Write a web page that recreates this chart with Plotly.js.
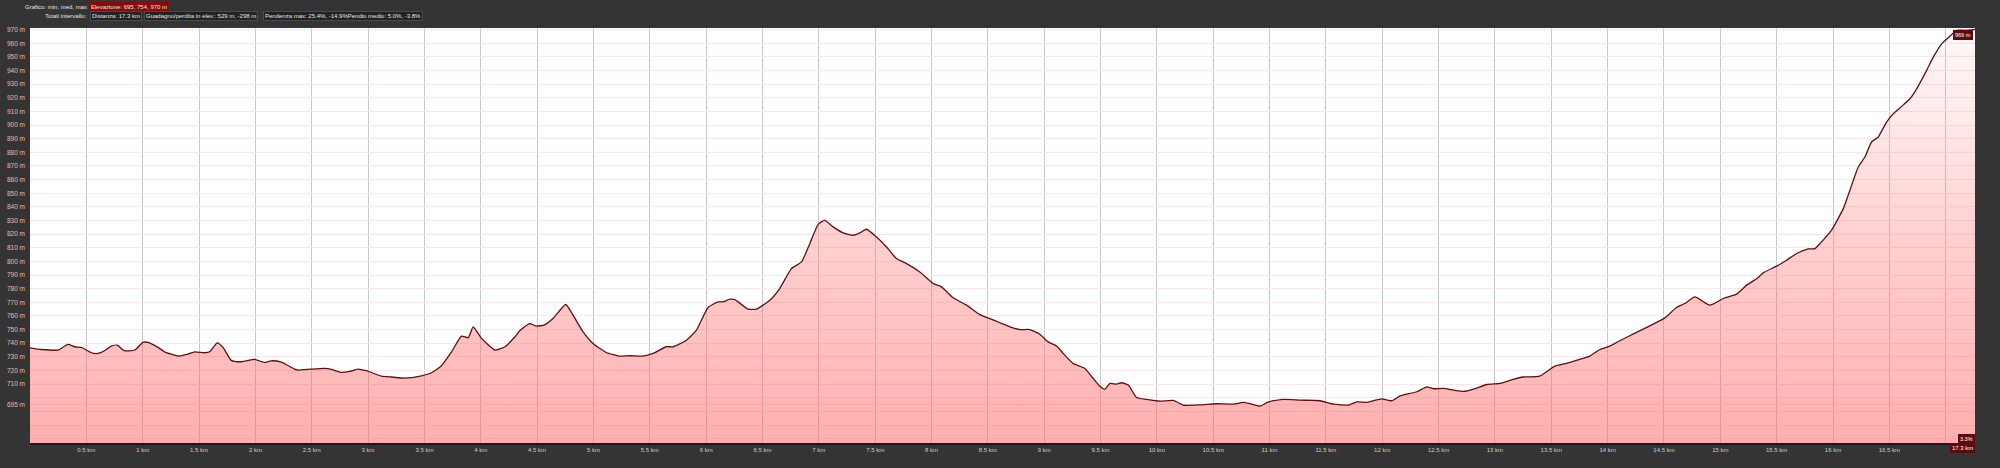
<!DOCTYPE html>
<html>
<head>
<meta charset="utf-8">
<script src="https://cdn.plot.ly/plotly-3.0.1.min.js"></script>
<style>
html,body{margin:0;padding:0;background:#343434;}
#chart{width:2000px;height:468px;}
</style>
</head>
<body>
<div id="chart"></div>
<script>
// Distance along the route (km)
const distanceKm = [
  0, 0.1, 0.248, 0.337, 0.396, 0.455, 0.5, 0.544, 0.603, 0.662, 0.721, 0.775, 0.834, 0.93,
  1.002, 1.047, 1.136, 1.195, 1.313, 1.402, 1.461, 1.55, 1.594, 1.662, 1.713, 1.786, 1.875, 1.993,
  2.082, 2.141, 2.23, 2.348, 2.378, 2.496, 2.615, 2.674, 2.763, 2.837, 2.911, 2.985,
  3.118, 3.207, 3.326, 3.474, 3.563, 3.652, 3.741, 3.83, 3.889, 3.933,
  4.007, 4.126, 4.215, 4.304, 4.346, 4.434, 4.493, 4.567, 4.641, 4.754, 4.819, 4.908, 4.996,
  5.115, 5.233, 5.322, 5.44, 5.529, 5.647, 5.706, 5.825, 5.914,
  6.017, 6.106, 6.15, 6.21, 6.254, 6.372, 6.446, 6.565, 6.653, 6.757, 6.846, 6.92, 6.994,
  7.053, 7.127, 7.216, 7.305, 7.364, 7.423, 7.512, 7.601, 7.689, 7.778, 7.896,
  8.015, 8.089, 8.192, 8.311, 8.429, 8.518, 8.607, 8.696, 8.784, 8.872, 8.961,
  9.035, 9.113, 9.168, 9.257, 9.361, 9.435, 9.494, 9.539, 9.583, 9.642, 9.687, 9.746, 9.82, 9.909,
  10.027, 10.146, 10.235, 10.382, 10.531, 10.679, 10.768, 10.827, 10.916, 10.99,
  11.123, 11.271, 11.389, 11.449, 11.567, 11.7, 11.774, 11.863, 11.996,
  12.085, 12.159, 12.307, 12.396, 12.455, 12.544, 12.633, 12.722, 12.81, 12.929,
  13.047, 13.162, 13.25, 13.398, 13.531, 13.635, 13.753, 13.842, 13.931,
  14.02, 14.108, 14.256, 14.404, 14.508, 14.611, 14.685, 14.774, 14.907,
  15.026, 15.144, 15.233, 15.322, 15.381, 15.499, 15.588, 15.677, 15.78, 15.839, 15.898, 15.987,
  16.091, 16.15, 16.224, 16.283, 16.342, 16.401, 16.475, 16.535, 16.609, 16.683, 16.742, 16.831, 16.89, 16.964,
  17.023, 17.097, 17.171, 17.26
];
// Elevation (m)
const elevationM = [
  736.6, 735.4, 735, 739.1, 737.4, 736.9, 735, 733, 732.5, 734.5, 737.9, 738.6, 734.5, 735,
  740.6, 740.6, 736.9, 733.7, 730.6, 732, 733.7, 733, 733.7, 740.3, 736.9, 727.4, 726.4, 728.1,
  725.9, 727.1, 726.1, 721, 720.3, 721, 721.5, 720.8, 718.6, 719.3, 721, 719.8,
  715.9, 715.2, 714.4, 716.1, 718.3, 723.5, 733.7, 745.2, 744, 752,
  743.5, 735, 737.4, 744.7, 749.1, 754.4, 752.5, 753.5, 758.1, 768.4, 760.6, 748.3, 739.8,
  733.2, 730.5, 730.8, 730.5, 732.5, 737.4, 737.4, 742.2, 749.6,
  766.2, 770.3, 770.3, 772.3, 772, 765, 765, 771.5, 780.1, 794.7, 799.6, 813, 827.2,
  830.1, 825.3, 820.9, 819.2, 820.9, 823.6, 817.9, 810.6, 802.1, 798.4, 792.3,
  783.8, 781.3, 773.3, 767.9, 761, 758.1, 755, 752, 750, 750, 746.6,
  741, 737.8, 732.5, 725.1, 721.5, 714.1, 708.5, 706.3, 710.5, 710, 711, 709.3, 700.2, 698.8,
  697.5, 698, 694.6, 694.8, 695.6, 695.3, 696.6, 695.6, 693.9, 697,
  698.8, 698.3, 698, 697.8, 695.3, 694.6, 697, 696.6, 699.2,
  697.8, 701.4, 704.4, 708, 706.6, 706.8, 705.6, 704.6, 706.3, 709.7,
  710.5, 713.5, 715.2, 715.9, 723.2, 725.2, 728.1, 730.5, 735.4,
  737.9, 741.8, 747.9, 754, 758.6, 766.2, 769.1, 774, 767.9,
  772.8, 776, 782.6, 787.2, 791.6, 796.5, 800.9, 805.8, 809.2, 809.4, 814.3, 822.9,
  838.7, 852.2, 869.3, 876.6, 887.6, 891.2, 902.2, 908.3, 913.7, 919.3, 926.6, 940.1, 949.8, 959.6,
  964, 969.5, 969.5, 970
];

// Axis ticks
const xTickVals = [0.5,1,1.5,2,2.5,3,3.5,4,4.5,5,5.5,6,6.5,7,7.5,8,8.5,9,9.5,10,10.5,11,11.5,12,12.5,13,13.5,14,14.5,15,15.5,16,16.5,17];
const xTickText = ['0.5 km','1 km','1.5 km','2 km','2.5 km','3 km','3.5 km','4 km','4.5 km','5 km','5.5 km','6 km','6.5 km','7 km','7.5 km','8 km','8.5 km','9 km','9.5 km','10 km','10.5 km','11 km','11.5 km','12 km','12.5 km','13 km','13.5 km','14 km','14.5 km','15 km','15.5 km','16 km','16.5 km',''];
const yTickVals = [670,680,690,695,700,710,720,730,740,750,760,770,780,790,800,810,820,830,840,850,860,870,880,890,900,910,920,930,940,950,960,970];
const yTickText = ['','','','695 m','','710 m','720 m','730 m','740 m','750 m','760 m','770 m','780 m','790 m','800 m','810 m','820 m','830 m','840 m','850 m','860 m','870 m','880 m','890 m','900 m','910 m','920 m','930 m','940 m','950 m','960 m','970 m'];

// Header texts
const headerLabel1 = 'Grafico: min, med, max';
const headerElev = 'Elevazione: 695, 754, 970 m';
const headerLabel2 = 'Totali intervallo:';
const headerDist = 'Distanza: 17.3 km';
const headerGain = 'Guadagno/perdita in elev.: 529 m, -298 m';
const headerSlope = 'Pendenza max: 25.4%, -14.9%Pendio medio: 5.0%, -3.8%';
const endElevLabel = '969 m';
const endSlopeLabel = '3.3%';
const endDistLabel = '17.3 km';

const W = 2000, H = 468, L = 30, R = 25, T = 28, B = 25;
const pw = W - L - R, ph = H - T - B;
const px = x => (x - L) / pw;
const py = y => (H - B - y) / ph;

const font = 'Liberation Sans, Arial, sans-serif';

const trace = {
  x: distanceKm,
  y: elevationM,
  type: 'scatter',
  mode: 'lines',
  line: {color: '#5e1010', width: 1.3, shape: 'spline', smoothing: 0.5},
  fill: 'tozeroy',
  fillgradient: {
    type: 'vertical',
    start: 667,
    stop: 972,
    colorscale: [[0, 'rgba(255,95,95,0.50)'], [0.5, 'rgba(255,110,110,0.32)'], [1, 'rgba(255,140,140,0.05)']]
  },
  hoverinfo: 'skip'
};

function box(text, x, y, anchor, bg, border) {
  return {
    xref: 'paper', yref: 'paper', x: x, y: y,
    xanchor: anchor, yanchor: 'middle',
    text: text, showarrow: false,
    font: {family: font, size: 6, color: '#e6e6e6'},
    bgcolor: bg, bordercolor: border, borderwidth: bg ? 1 : 0, borderpad: 1
  };
}

const annotations = [
  box(headerLabel1, px(88), py(7.5), 'right', null, null),
  box(headerElev, px(89), py(7.5), 'left', '#8a0a0a', '#8a0a0a'),
  box(headerLabel2, px(88), py(15.7), 'right', null, null),
  box(headerDist, px(90), py(15.7), 'left', '#222222', '#4a4a4a'),
  box(headerGain, px(144), py(15.7), 'left', '#222222', '#4a4a4a'),
  box(headerSlope, px(263), py(15.7), 'left', '#222222', '#4a4a4a'),
  Object.assign(box(endElevLabel, px(1973), py(34.5), 'right', '#5e0a0a', '#5e0a0a'), {font: {family: font, size: 5.5, color: '#ffffff'}}),
  Object.assign(box(endSlopeLabel, px(1975), py(439), 'right', '#5e0a0a', '#5e0a0a'), {font: {family: font, size: 5.5, color: '#ffffff'}}),
  Object.assign(box(endDistLabel, px(1975), py(447.5), 'right', '#5e0a0a', '#5e0a0a'), {font: {family: font, size: 6, color: '#ffffff'}})
];

const layout = {
  width: W, height: H,
  margin: {l: L, r: R, t: T, b: B, pad: 0},
  paper_bgcolor: '#343434',
  plot_bgcolor: '#ffffff',
  showlegend: false,
  xaxis: {
    range: [0, 17.26],
    tickmode: 'array', tickvals: xTickVals, ticktext: xTickText,
    showgrid: true, gridcolor: '#c8c8c8', gridwidth: 1,
    zeroline: false,
    showline: true, linecolor: '#1c1c1c', linewidth: 2, mirror: false,
    ticks: '', ticklabelstandoff: 0,
    tickfont: {family: font, size: 6, color: '#cfcfcf'},
    fixedrange: true
  },
  yaxis: {
    range: [666.8, 971.2],
    tickmode: 'array', tickvals: yTickVals, ticktext: yTickText,
    showgrid: true, gridcolor: '#f9e6e6', gridwidth: 1,
    zeroline: false, showline: false,
    ticks: '', ticklabelstandoff: 4,
    tickfont: {family: font, size: 6.5, color: '#e2bcbc'},
    fixedrange: true
  },
  annotations: annotations
};

Plotly.newPlot('chart', [trace], layout, {staticPlot: true, displayModeBar: false});
</script>
</body>
</html>
